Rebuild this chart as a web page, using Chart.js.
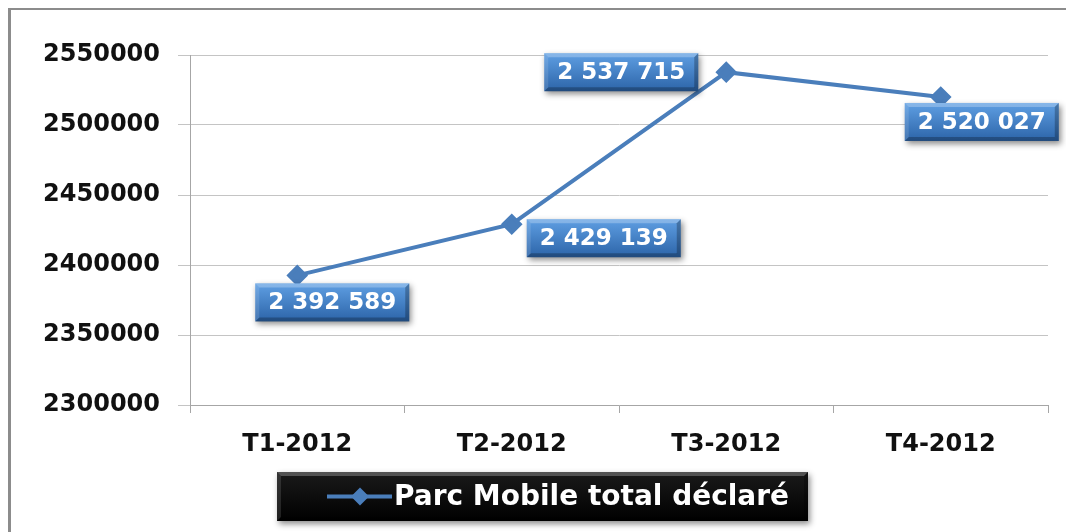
<!DOCTYPE html>
<html>
<head>
<meta charset="utf-8">
<script src="https://cdn.jsdelivr.net/npm/chart.js@4.4.0/dist/chart.umd.min.js"></script>
<style>
  html, body { margin: 0; padding: 0; background: #fff; }
  #wrap { position: relative; width: 1066px; height: 532px; overflow: hidden; }
  #frame { position: absolute; left: 8px; top: 8px; width: 1100px; height: 600px;
           border-left: 3px solid #8c8c8c; border-top: 2px solid #8c8c8c; }
  canvas { position: absolute; left: 0; top: 0; }
</style>
</head>
<body>
<div id="wrap">
  <div id="frame"></div>
  <canvas id="myChart" width="1066" height="532"></canvas>
</div>
<script>
// data
var quarters = ["T1-2012", "T2-2012", "T3-2012", "T4-2012"];
var parcMobile = [2392589, 2429139, 2537715, 2520027];
var seriesName = "Parc Mobile total déclaré";
var yMin = 2300000, yMax = 2550000, yStep = 50000;

var lineColor = "#4a7ebb";
// where each value box sits relative to its point
var labelOffsets = [[35, 27], [92, 14], [-105, 0], [41, 25]];

function fmtSpace(n) {
  return n.toString().replace(/\B(?=(\d{3})+(?!\d))/g, " ");
}

function bevelBox(ctx, x, y, w, h, top, bottom) {
  ctx.save();
  ctx.shadowColor = "rgba(0,0,0,0.45)";
  ctx.shadowBlur = 6;
  ctx.shadowOffsetX = 2;
  ctx.shadowOffsetY = 3;
  var g = ctx.createLinearGradient(0, y, 0, y + h);
  g.addColorStop(0, top);
  g.addColorStop(1, bottom);
  ctx.fillStyle = g;
  ctx.fillRect(x, y, w, h);
  ctx.restore();
  // bevel edges
  ctx.save();
  ctx.fillStyle = "rgba(255,255,255,0.25)";
  ctx.beginPath();
  ctx.moveTo(x, y); ctx.lineTo(x + w, y); ctx.lineTo(x + w - 4, y + 4); ctx.lineTo(x + 4, y + 4);
  ctx.closePath(); ctx.fill();
  ctx.fillStyle = "rgba(0,0,0,0.25)";
  ctx.beginPath();
  ctx.moveTo(x, y + h); ctx.lineTo(x + w, y + h); ctx.lineTo(x + w - 4, y + h - 4); ctx.lineTo(x + 4, y + h - 4);
  ctx.closePath(); ctx.fill();
  ctx.beginPath();
  ctx.moveTo(x + w, y); ctx.lineTo(x + w, y + h); ctx.lineTo(x + w - 4, y + h - 4); ctx.lineTo(x + w - 4, y + 4);
  ctx.closePath(); ctx.fill();
  ctx.fillStyle = "rgba(255,255,255,0.12)";
  ctx.beginPath();
  ctx.moveTo(x, y); ctx.lineTo(x, y + h); ctx.lineTo(x + 4, y + h - 4); ctx.lineTo(x + 4, y + 4);
  ctx.closePath(); ctx.fill();
  ctx.restore();
}

var valueBoxes = {
  id: "valueBoxes",
  afterDatasetsDraw: function (chart) {
    var ctx = chart.ctx;
    var meta = chart.getDatasetMeta(0);
    var ds = chart.data.datasets[0];
    ctx.save();
    ctx.font = "bold 23px 'DejaVu Sans'";
    meta.data.forEach(function (pt, i) {
      var txt = fmtSpace(ds.data[i]);
      var w = ctx.measureText(txt).width + 26;
      var h = 38;
      var cx = pt.x + labelOffsets[i][0];
      var cy = pt.y + labelOffsets[i][1];
      bevelBox(ctx, cx - w / 2, cy - h / 2, w, h, "#5f9fe3", "#2c64a8");
      ctx.fillStyle = "#fff";
      ctx.textAlign = "center";
      ctx.textBaseline = "middle";
      ctx.fillText(txt, cx, cy + 1);
    });
    ctx.restore();
  }
};

var legendBox = {
  id: "legendBox",
  afterDraw: function (chart) {
    var ctx = chart.ctx;
    var ds = chart.data.datasets[0];
    var x = 277, y = 472, w = 531, h = 49;
    bevelBox(ctx, x, y, w, h, "#1a1a1a", "#000");
    ctx.save();
    var ly = y + h / 2;
    ctx.strokeStyle = ds.borderColor;
    ctx.lineWidth = 4;
    ctx.beginPath();
    ctx.moveTo(x + 50, ly); ctx.lineTo(x + 115, ly);
    ctx.stroke();
    ctx.fillStyle = ds.borderColor;
    ctx.beginPath();
    ctx.moveTo(x + 83, ly - 9); ctx.lineTo(x + 92, ly); ctx.lineTo(x + 83, ly + 9); ctx.lineTo(x + 74, ly);
    ctx.closePath(); ctx.fill();
    ctx.font = "bold 28px 'DejaVu Sans'";
    ctx.fillStyle = "#fff";
    ctx.textBaseline = "middle";
    ctx.fillText(ds.label, x + 117, ly + 1);
    ctx.restore();
  }
};

new Chart("myChart", {
  type: "line",
  data: {
    labels: quarters,
    datasets: [{
      label: seriesName,
      data: parcMobile,
      borderColor: lineColor,
      backgroundColor: lineColor,
      borderWidth: 4,
      pointStyle: "rectRot",
      pointRadius: 8,
      pointHoverRadius: 8,
      tension: 0
    }]
  },
  options: {
    responsive: false,
    animation: false,
    layout: { padding: { top: 55, right: 18, bottom: 0, left: 0 } },
    plugins: { legend: { display: false }, tooltip: { enabled: false } },
    scales: {
      x: {
        offset: true,
        grid: { offset: true, drawOnChartArea: false, tickLength: 8, color: "#a6a6a6" },
        border: { color: "#a6a6a6" },
        ticks: { color: "#111", font: { family: "DejaVu Sans", weight: "bold", size: 24 }, padding: 17 },
        afterFit: function (s) { s.height = 127; }
      },
      y: {
        min: yMin,
        max: yMax,
        grid: { color: "#c4c4c4", tickLength: 12 },
        border: { color: "#a6a6a6" },
        ticks: {
          stepSize: yStep,
          color: "#111",
          font: { family: "DejaVu Sans", weight: "bold", size: 24 },
          padding: 18,
          callback: function (v) { return String(v); }
        },
        afterFit: function (s) { s.width = 190; }
      }
    }
  },
  plugins: [valueBoxes, legendBox]
});
</script>
</body>
</html>
